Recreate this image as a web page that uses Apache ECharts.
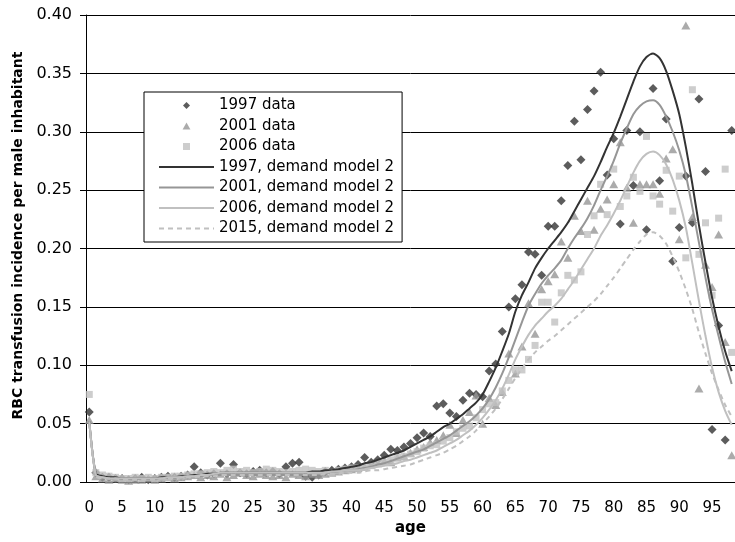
<!DOCTYPE html>
<html>
<head>
<meta charset="utf-8">
<script src="https://cdn.jsdelivr.net/npm/echarts@6/dist/echarts.min.js"></script>
<style>
  html, body { margin: 0; padding: 0; background: #fff; }
  #chart { width: 735px; height: 542px; }
</style>
</head>
<body>
<div id="chart"></div>
<script>
// Ages 0..98, one category per year of age
const ages = Array.from({ length: 99 }, (_, i) => String(i));

// Observed RBC transfusion incidence per male inhabitant, by age
const data1997 = [
  0.060,0.008,0.004,0.004,0.003,0.003,0.002,0.003,0.004,0.002,
  0.003,0.004,0.005,0.004,0.005,0.006,0.013,0.008,0.006,0.007,
  0.016,0.007,0.015,0.008,0.007,0.009,0.010,0.008,0.009,0.007,
  0.013,0.016,0.017,0.005,0.004,0.006,0.009,0.010,0.011,0.012,
  0.013,0.015,0.021,0.017,0.019,0.023,0.028,0.027,0.030,0.033,
  0.038,0.042,0.039,0.065,0.067,0.059,0.056,0.070,0.076,0.075,
  0.073,0.095,0.101,0.129,0.150,0.157,0.169,0.197,0.195,0.177,
  0.219,0.219,0.241,0.271,0.309,0.276,0.319,0.335,0.351,0.263,
  0.294,0.221,0.301,0.254,0.300,0.216,0.337,0.258,0.311,0.189,
  0.218,0.262,0.222,0.328,0.266,0.045,0.134,0.036,0.301
];
const data2001 = [
  0.053,0.005,0.003,0.002,0.003,0.002,0.001,0.002,0.002,0.003,
  0.002,0.003,0.004,0.003,0.004,0.005,0.006,0.004,0.006,0.005,
  0.007,0.004,0.006,0.008,0.006,0.005,0.007,0.006,0.005,0.006,
  0.004,0.007,0.006,0.005,0.007,0.006,0.007,0.008,0.009,0.010,
  0.011,0.012,0.013,0.015,0.016,0.018,0.017,0.021,0.022,0.025,
  0.028,0.030,0.034,0.036,0.040,0.049,0.042,0.053,0.060,0.074,
  0.050,0.072,0.066,0.077,0.110,0.093,0.116,0.153,0.127,0.165,
  0.172,0.178,0.206,0.192,0.228,0.215,0.241,0.216,0.234,0.242,
  0.255,0.291,0.252,0.222,0.255,0.255,0.255,0.247,0.277,0.285,
  0.208,0.391,0.227,0.080,0.186,0.167,0.212,0.120,0.023
];
const data2006 = [
  0.075,0.008,0.006,0.005,0.004,0.003,0.003,0.004,0.003,0.004,
  0.003,0.004,0.004,0.005,0.005,0.006,0.007,0.007,0.008,0.009,
  0.008,0.010,0.011,0.009,0.010,0.008,0.009,0.011,0.010,0.009,
  0.008,0.009,0.010,0.011,0.010,0.009,0.010,0.008,0.010,0.011,
  0.012,0.012,0.013,0.014,0.016,0.017,0.019,0.021,0.022,0.024,
  0.026,0.029,0.031,0.032,0.035,0.038,0.043,0.046,0.048,0.055,
  0.062,0.067,0.068,0.078,0.087,0.096,0.096,0.105,0.117,0.154,
  0.154,0.137,0.162,0.177,0.173,0.180,0.212,0.228,0.255,0.229,
  0.268,0.236,0.245,0.261,0.249,0.296,0.245,0.238,0.267,0.232,
  0.262,0.192,0.336,0.195,0.222,0.160,0.226,0.268,0.111
];

// Demand model 2 curves
const model1997 = [
  0.052,0.007,0.005,0.004,0.004,0.003,0.003,0.003,0.003,0.003,
  0.003,0.004,0.004,0.004,0.005,0.005,0.006,0.006,0.007,0.007,
  0.008,0.008,0.008,0.008,0.008,0.008,0.008,0.008,0.008,0.008,
  0.008,0.008,0.008,0.008,0.009,0.009,0.010,0.010,0.011,0.012,
  0.013,0.014,0.016,0.017,0.019,0.021,0.023,0.025,0.027,0.030,
  0.033,0.036,0.039,0.043,0.047,0.050,0.054,0.058,0.063,0.068,
  0.075,0.086,0.098,0.112,0.127,0.146,0.160,0.171,0.183,0.192,
  0.200,0.207,0.214,0.222,0.232,0.242,0.252,0.262,0.274,0.287,
  0.299,0.313,0.328,0.343,0.356,0.364,0.367,0.363,0.352,0.335,
  0.315,0.287,0.255,0.220,0.188,0.158,0.133,0.112,0.095
];
const model2001 = [
  0.052,0.006,0.004,0.003,0.003,0.003,0.003,0.003,0.003,0.003,
  0.003,0.003,0.004,0.004,0.004,0.005,0.005,0.005,0.006,0.006,
  0.006,0.006,0.006,0.006,0.006,0.006,0.006,0.006,0.006,0.006,
  0.006,0.006,0.006,0.006,0.007,0.007,0.008,0.008,0.009,0.010,
  0.010,0.011,0.012,0.013,0.015,0.016,0.018,0.020,0.022,0.024,
  0.026,0.028,0.031,0.034,0.037,0.040,0.044,0.048,0.052,0.057,
  0.063,0.071,0.081,0.093,0.107,0.122,0.137,0.151,0.161,0.170,
  0.177,0.183,0.190,0.200,0.209,0.217,0.226,0.237,0.250,0.262,
  0.275,0.290,0.303,0.315,0.322,0.326,0.327,0.323,0.313,0.300,
  0.284,0.263,0.235,0.205,0.175,0.148,0.125,0.103,0.084
];
const model2006 = [
  0.052,0.006,0.004,0.003,0.003,0.003,0.003,0.003,0.003,0.003,
  0.003,0.003,0.004,0.004,0.004,0.005,0.005,0.006,0.006,0.007,
  0.008,0.008,0.008,0.008,0.008,0.008,0.008,0.008,0.008,0.008,
  0.008,0.008,0.008,0.008,0.008,0.008,0.008,0.009,0.009,0.010,
  0.010,0.010,0.011,0.012,0.013,0.014,0.015,0.016,0.018,0.019,
  0.021,0.023,0.025,0.027,0.030,0.033,0.036,0.040,0.044,0.049,
  0.055,0.062,0.070,0.080,0.092,0.105,0.116,0.126,0.134,0.140,
  0.146,0.151,0.157,0.165,0.173,0.182,0.191,0.200,0.211,0.220,
  0.230,0.241,0.253,0.265,0.275,0.281,0.283,0.280,0.272,0.259,
  0.241,0.218,0.187,0.155,0.125,0.098,0.077,0.061,0.049
];
const model2015 = [
  0.050,0.005,0.003,0.003,0.003,0.002,0.002,0.002,0.002,0.002,
  0.002,0.003,0.003,0.003,0.004,0.004,0.004,0.005,0.005,0.005,
  0.006,0.006,0.006,0.006,0.006,0.006,0.006,0.006,0.006,0.006,
  0.006,0.006,0.006,0.006,0.006,0.006,0.007,0.007,0.007,0.008,
  0.008,0.008,0.009,0.010,0.010,0.011,0.012,0.013,0.014,0.015,
  0.017,0.019,0.021,0.023,0.025,0.028,0.031,0.035,0.039,0.044,
  0.050,0.056,0.063,0.071,0.080,0.089,0.097,0.105,0.111,0.116,
  0.121,0.125,0.130,0.135,0.140,0.145,0.150,0.155,0.161,0.168,
  0.175,0.183,0.191,0.199,0.206,0.212,0.214,0.211,0.204,0.193,
  0.180,0.165,0.148,0.128,0.110,0.093,0.079,0.066,0.056
];

const FONT = '"DejaVu Sans", Verdana, sans-serif';
const DARK = '#333333';
const MID = '#969696';
const LIGHT = '#c0c0c0';

const ICON_DIAMOND = 'path://M5,0L10,5L5,10L0,5Z';
const ICON_TRIANGLE = 'path://M5,0L10,9L0,9Z';
const ICON_SQUARE = 'path://M0,0H9V9H0Z';
// hide the marker that line entries draw in the middle of their legend sample
const NO_MARKER = { color: 'rgba(0,0,0,0)', borderColor: 'rgba(0,0,0,0)', borderWidth: 0, opacity: 0 };

const chart = echarts.init(document.getElementById('chart'), null, { renderer: 'canvas' });

function scatter(name, values, symbol, size, color) {
  return {
    name, type: 'scatter', data: values, symbol, symbolSize: size,
    itemStyle: { color }, z: 2
  };
}
function curve(name, values, color, dashed) {
  return {
    name, type: 'line', data: values, symbol: 'none', smooth: 0.25,
    lineStyle: { color, width: 2, type: dashed ? [5, 4] : 'solid' },
    itemStyle: { color }, z: 3
  };
}

chart.setOption({
  animation: false,
  backgroundColor: '#fff',
  textStyle: { fontFamily: FONT },
  grid: { left: 86, right: 0, top: 15, bottom: 60, containLabel: false },
  legend: {
    orient: 'vertical',
    left: 144, top: 92,
    padding: [6, 8, 6, 14],
    itemGap: 5.5,
    itemWidth: 55, itemHeight: 7,
    itemTextGap: 6,
    borderColor: '#000', borderWidth: 1, backgroundColor: '#fff',
    textStyle: { fontSize: 15, color: '#000', fontFamily: FONT },
    data: [
      { name: '1997 data', icon: ICON_DIAMOND },
      { name: '2001 data', icon: ICON_TRIANGLE },
      { name: '2006 data', icon: ICON_SQUARE },
      { name: '1997, demand model 2', itemStyle: NO_MARKER },
      { name: '2001, demand model 2', itemStyle: NO_MARKER },
      { name: '2006, demand model 2', itemStyle: NO_MARKER },
      { name: '2015, demand model 2', itemStyle: NO_MARKER }
    ]
  },
  xAxis: {
    type: 'category',
    data: ages,
    boundaryGap: true,
    axisLine: { lineStyle: { color: '#000', width: 1 } },
    axisTick: { interval: 4, length: 6, lineStyle: { color: '#000' } },
    axisLabel: { interval: 4, margin: 19, fontSize: 15, color: '#000', fontFamily: FONT },
    splitLine: { show: false },
    name: 'age',
    nameLocation: 'middle',
    nameGap: 38,
    nameTextStyle: { fontSize: 15, fontWeight: 'bold', color: '#000', fontFamily: FONT }
  },
  yAxis: {
    type: 'value',
    min: 0, max: 0.4, interval: 0.05,
    axisLine: { show: true, lineStyle: { color: '#000', width: 1 } },
    axisTick: { show: true, length: 6, lineStyle: { color: '#000' } },
    axisLabel: { margin: 14, fontSize: 16, color: '#000', fontFamily: FONT,
                 formatter: v => v.toFixed(2) },
    splitLine: { show: true, lineStyle: { color: '#000', width: 1 } },
    name: 'RBC transfusion incidence per male inhabitant',
    nameLocation: 'middle',
    nameGap: 58,
    nameTextStyle: { fontSize: 14, fontWeight: 'bold', color: '#000', fontFamily: FONT,
                     padding: [0, 0, 0, 26] }
  },
  series: [
    scatter('1997 data', data1997, 'diamond', 9, DARK),
    scatter('2001 data', data2001, 'triangle', [9, 8], MID),
    scatter('2006 data', data2006, 'rect', 7, LIGHT),
    curve('1997, demand model 2', model1997, DARK, false),
    curve('2001, demand model 2', model2001, MID, false),
    curve('2006, demand model 2', model2006, LIGHT, false),
    curve('2015, demand model 2', model2015, LIGHT, true)
  ]
});
</script>
</body>
</html>
